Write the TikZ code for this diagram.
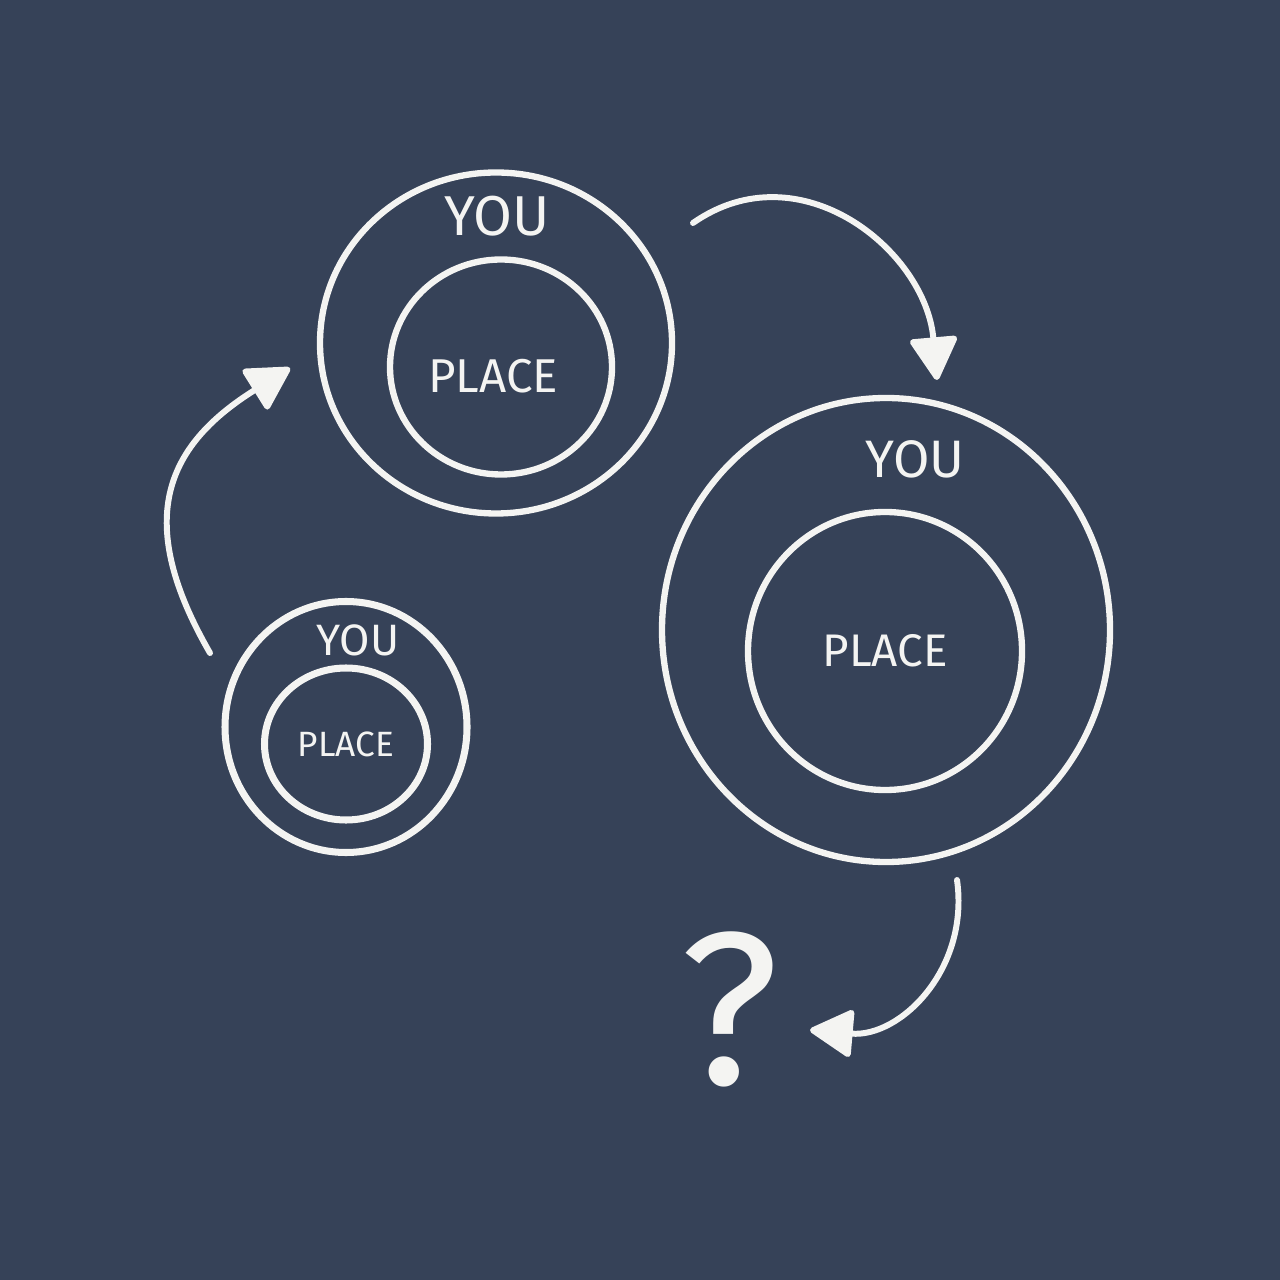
\documentclass[tikz,border=0pt]{standalone}
\usepackage{fontspec}
\setmainfont{Fira Sans}
\usepackage{xcolor}
\usetikzlibrary{arrows.meta,shapes.geometric}
\definecolor{board}{RGB}{54,66,88}
\definecolor{chalk}{RGB}{244,244,242}

\begin{document}
\begin{tikzpicture}[
  ring/.style={draw=chalk, ellipse, line width=1.8pt, inner sep=0pt},
  label/.style={text=chalk},
  arrow/.style={-{Triangle[length=4.6mm,width=5mm,round]}, draw=chalk, line width=1.7pt, line cap=round}
]
\fill[board] (0,0) rectangle (12.8,-12.8);
\useasboundingbox (0,0) rectangle (12.8,-12.8);
% small pair
\node (so) [ring, line width=2pt, minimum width=2.42cm, minimum height=2.51cm] at (3.46,-7.27) {};
\node (si) [ring, line width=2pt, minimum width=1.63cm, minimum height=1.52cm, label] at (3.46,-7.44) {\fontsize{10}{12}\selectfont PLACE};
\node (sy) [label] at (3.58,-6.4) {\fontsize{12.5}{15}\selectfont YOU};
% medium pair
\node (mo) [ring, minimum width=3.52cm, minimum height=3.41cm] at (4.96,-3.43) {};
\node (mi) [ring, minimum width=2.22cm, minimum height=2.15cm] at (5.01,-3.67) {};
\node (mp) [label] at (4.93,-3.76) {\fontsize{13.5}{15}\selectfont PLACE};
\node (my) [label] at (4.97,-2.16) {\fontsize{16}{18}\selectfont YOU};
% large pair
\node (lo) [ring, minimum width=4.48cm, minimum height=4.64cm] at (8.86,-6.3) {};
\node (li) [ring, minimum width=2.74cm, minimum height=2.78cm, label] at (8.85,-6.51) {\fontsize{13}{15}\selectfont PLACE};
\node (ly) [label] at (9.15,-4.59) {\fontsize{15}{17}\selectfont YOU};
% what next
\node (q) [label] at (7.29,-10.09) {\fontsize{62}{68}\selectfont ?};

\coordinate (a1s) at (2.1,-6.53);
\coordinate (a1e) at (2.9,-3.68);
\coordinate (a2s) at (6.93,-2.23);
\coordinate (a2e) at (9.37,-3.8);
\coordinate (a3s) at (9.57,-8.8);
\coordinate (a3e) at (8.1,-10.3);
\draw[arrow] (a1s) to[out=120, in=212, looseness=1.3] (a1e);
\draw[arrow] (a2s) to[out=35, in=95, looseness=1.15] (a2e);
\draw[arrow] (a3s) to[out=-82, in=-5, looseness=1.1] (a3e);
\end{tikzpicture}
\end{document}
